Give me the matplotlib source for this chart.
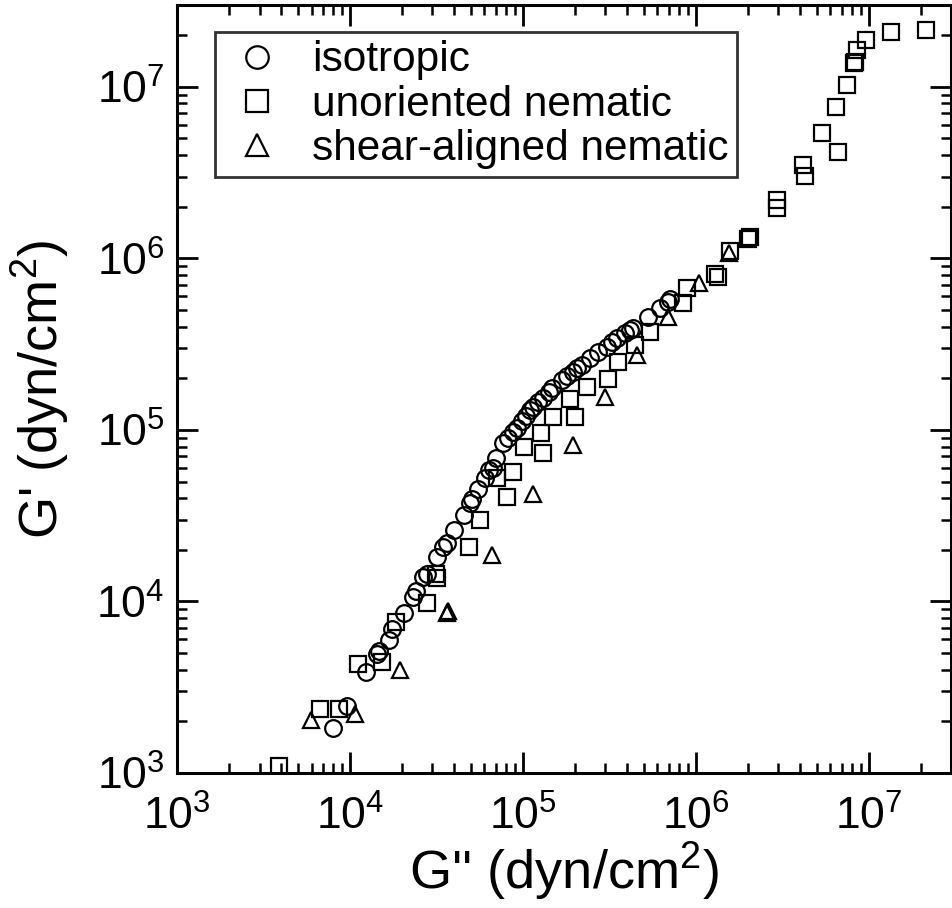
import matplotlib

matplotlib.use("Agg")
import matplotlib.pyplot as plt

plt.rcParams["font.family"] = ["Liberation Sans", "DejaVu Sans"]
plt.rcParams["mathtext.fontset"] = "custom"
plt.rcParams["mathtext.rm"] = "Liberation Sans"
plt.rcParams["mathtext.it"] = "Liberation Sans"
plt.rcParams["mathtext.default"] = "regular"

# G'' (loss) vs G' (storage) moduli, dyn/cm^2
iso_gpp = [8.0e3, 9.6e3, 1.24e4, 1.44e4, 1.47e4, 1.69e4, 1.74e4, 2.06e4, 2.32e4, 2.42e4,
           2.66e4, 2.78e4, 3.2e4, 3.47e4, 3.62e4, 4.0e4, 4.58e4, 4.97e4, 5.1e4, 5.52e4,
           6.06e4, 6.4e4, 6.7e4, 7.0e4, 7.7e4, 8.2e4, 8.8e4, 9.2e4, 9.9e4, 1.05e5,
           1.1e5, 1.15e5, 1.22e5, 1.30e5, 1.41e5, 1.47e5, 1.69e5, 1.80e5, 1.94e5, 2.07e5,
           2.2e5, 2.46e5, 2.74e5, 3.08e5, 3.3e5, 3.52e5, 3.92e5, 4.15e5, 4.36e5, 5.33e5,
           6.25e5, 6.96e5, 7.1e5]
iso_gp = [1.83e3, 2.46e3, 3.88e3, 4.94e3, 5.15e3, 5.97e3, 6.92e3, 8.57e3, 1.06e4, 1.15e4,
          1.39e4, 1.45e4, 1.82e4, 2.08e4, 2.2e4, 2.61e4, 3.19e4, 3.75e4, 3.96e4, 4.53e4,
          5.25e4, 5.85e4, 6.0e4, 6.9e4, 8.4e4, 9.0e4, 9.7e4, 1.02e5, 1.12e5, 1.2e5,
          1.3e5, 1.36e5, 1.45e5, 1.54e5, 1.67e5, 1.75e5, 1.96e5, 2.05e5, 2.18e5, 2.3e5,
          2.4e5, 2.63e5, 2.85e5, 3.05e5, 3.25e5, 3.44e5, 3.68e5, 3.8e5, 3.93e5, 4.56e5,
          5.14e5, 5.57e5, 5.8e5]

unor_gpp = [3.9e3, 6.7e3, 8.7e3, 1.12e4, 1.54e4, 1.85e4, 2.8e4, 3.2e4, 3.15e4, 4.9e4,
            5.68e4, 7.1e4, 8.1e4, 8.8e4, 1.01e5, 1.30e5, 1.28e5, 1.50e5, 2.01e5, 1.88e5,
            2.36e5, 3.12e5, 3.57e5, 4.48e5, 5.47e5, 8.4e5, 8.96e5, 1.30e6, 1.34e6, 1.57e6,
            2.0e6, 2.05e6, 2.97e6, 2.97e6, 4.15e6, 4.26e6, 5.35e6, 6.62e6, 6.45e6, 7.46e6,
            8.2e6, 8.4e6, 8.6e6, 9.7e6, 1.34e7, 2.14e7]
unor_gp = [1.1e3, 2.36e3, 2.36e3, 4.33e3, 4.44e3, 7.59e3, 9.8e3, 1.37e4, 1.45e4, 2.08e4,
           2.99e4, 5.25e4, 4.07e4, 5.7e4, 8.0e4, 7.35e4, 9.6e4, 1.19e5, 1.19e5, 1.52e5,
           1.78e5, 1.98e5, 2.49e5, 3.13e5, 3.73e5, 5.5e5, 6.73e5, 8.1e5, 7.8e5, 1.1e6,
           1.3e6, 1.33e6, 2.19e6, 1.97e6, 3.51e6, 3.03e6, 5.39e6, 4.18e6, 7.64e6, 1.03e7,
           1.38e7, 1.40e7, 1.64e7, 1.88e7, 2.1e7, 2.15e7]

shear_gpp = [5.97e3, 1.07e4, 1.95e4, 3.66e4, 3.7e4, 6.65e4, 1.15e5, 1.94e5, 3.0e5, 4.6e5,
             6.96e5, 1.05e6, 1.55e6]
shear_gp = [2.04e3, 2.21e3, 3.99e3, 8.57e3, 8.8e3, 1.87e4, 4.24e4, 8.2e4, 1.56e5, 2.74e5,
            4.56e5, 7.2e5, 1.08e6]

fig = plt.figure(figsize=(9.52, 9.08), dpi=100)
ax = fig.add_axes([0.186, 0.1487, 0.813, 0.8458])

mk = dict(ls="none", mfc="none", mec="black", mew=1.6, ms=12)
ax.loglog(iso_gpp, iso_gp, marker="o", label="isotropic", **mk)
ax.loglog(unor_gpp, unor_gp, marker="s", label="unoriented nematic", **mk)
ax.loglog(shear_gpp, shear_gp, marker="^", label="shear-aligned nematic", **mk)

ax.set_xlim(1e3, 3e7)
ax.set_ylim(1e3, 3e7)
for s in ax.spines.values():
    s.set_linewidth(2.2)
ax.tick_params(which="both", direction="in", top=True, right=True, labelsize=32)
ax.tick_params(which="major", length=15, width=2.0)
ax.tick_params(which="minor", length=7.5, width=1.8)
ax.tick_params(axis="x", which="major", pad=16)
ax.tick_params(axis="y", which="major", pad=9)

ax.set_xlabel("G'' (dyn/cm$^2$)", fontsize=39, labelpad=1)
ax.set_ylabel("G' (dyn/cm$^2$)", fontsize=39, labelpad=18)

leg = ax.legend(loc="upper left", bbox_to_anchor=(0.049, 0.965), borderaxespad=0,
                fontsize=30.5, frameon=True, fancybox=False, edgecolor="black",
                handletextpad=0.5, labelspacing=0.1, borderpad=0.2, handlelength=1.6,
                markerscale=1.35)
leg.get_frame().set_linewidth(2.0)

fig.savefig("out.png", dpi=100)
